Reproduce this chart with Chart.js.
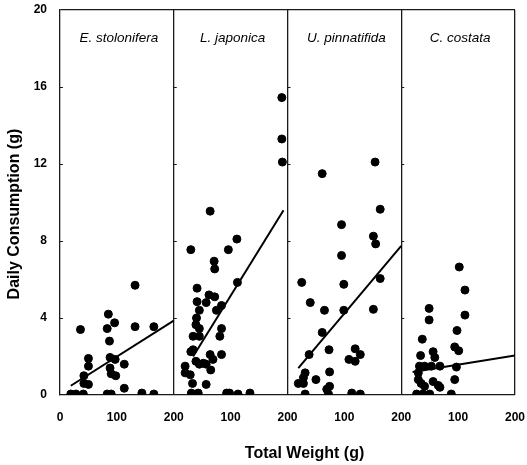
<!DOCTYPE html>
<html>
<head>
<meta charset="utf-8">
<script src="https://cdn.jsdelivr.net/npm/chart.js@4.4.1/dist/chart.umd.min.js"></script>
<style>
  body { margin: 0; background: #fff; }
  canvas { display: block; }
</style>
</head>
<body>
<canvas id="chart" width="527" height="465"></canvas>
<script>
// Названия видов (панели слева направо)
const species = ['E. stolonifera', 'L. japonica', 'U. pinnatifida', 'C. costata'];

// Общий вес (г) и суточное потребление (г) для каждого вида
const weightStolonifera = [132, 85, 96, 83, 132, 165, 36, 87, 50, 50, 88, 97, 113, 88, 90, 98, 42, 50, 42, 113, 19, 28, 41, 83, 90, 144, 165];
const consStolonifera = [5.7, 4.2, 3.75, 3.45, 3.55, 3.55, 3.4, 2.8, 1.9, 1.5, 1.95, 1.85, 1.6, 1.4, 1.1, 1.0, 1.0, 0.55, 0.6, 0.35, 0.05, 0.05, 0.05, 0.05, 0.05, 0.1, 0.05];

const weightJaponica = [190, 190, 191, 64, 30, 111, 96, 71, 72, 112, 41, 62, 72, 41, 57, 84, 45, 75, 40, 39, 45, 84, 34, 45, 81, 34, 30, 64, 84, 69, 39, 45, 52, 57, 20, 20, 29, 65, 33, 57, 31, 43, 93, 98, 113, 134];
const consJaponica = [15.45, 13.3, 12.1, 9.55, 7.55, 8.1, 7.55, 6.95, 6.55, 5.85, 5.55, 5.2, 5.1, 4.85, 4.8, 4.65, 4.4, 4.4, 4.0, 3.65, 3.45, 3.45, 3.05, 3.05, 3.05, 2.35, 2.25, 2.1, 2.1, 1.85, 1.75, 1.6, 1.65, 1.6, 1.5, 1.15, 1.05, 1.3, 0.6, 0.55, 0.1, 0.1, 0.1, 0.1, 0.05, 0.1];

const weightPinnatifida = [154, 61, 163, 95, 151, 155, 95, 25, 99, 163, 40, 65, 99, 151, 61, 38, 73, 119, 128, 108, 119, 31, 28, 19, 28, 50, 74, 74, 69, 31, 72, 113, 128];
const consPinnatifida = [12.1, 11.5, 9.65, 8.85, 8.25, 7.85, 7.25, 5.85, 5.75, 6.05, 4.8, 4.4, 4.4, 4.45, 3.25, 2.1, 2.35, 2.4, 2.1, 1.85, 1.75, 1.15, 0.9, 0.6, 0.6, 0.8, 1.2, 0.45, 0.3, 0.05, 0.05, 0.1, 0.05];

const weightCostata = [102, 112, 112, 49, 49, 98, 37, 94, 101, 34, 56, 59, 32, 41, 53, 68, 97, 30, 30, 35, 41, 56, 65, 68, 94, 27, 38, 50, 88];
const consCostata = [6.65, 5.45, 4.15, 4.5, 3.9, 3.35, 2.9, 2.5, 2.3, 2.05, 2.25, 1.95, 1.5, 1.5, 1.5, 1.5, 1.45, 1.15, 0.8, 0.6, 0.45, 0.7, 0.5, 0.4, 0.8, 0.05, 0.05, 0.05, 0.05];

// Линии регрессии: концы по весу и потреблению
const fitWeight = [[19, 200], [34, 193], [19, 200], [20, 200]];
const fitCons = [[0.48, 3.86], [2.0, 9.6], [1.4, 7.75], [1.2, 2.05]];

// Подписи осей
const yTicks = [0, 4, 8, 12, 16, 20];
const xTitle = 'Total Weight (g)';
const yTitle = 'Daily Consumption (g)';

const panelRange = 200;
const weights = [weightStolonifera, weightJaponica, weightPinnatifida, weightCostata];
const cons = [consStolonifera, consJaponica, consPinnatifida, consCostata];
const frameColor = '#1a1a1a';

const datasets = [];
species.forEach((name, i) => {
  const offset = i * panelRange;
  datasets.push({
    label: name,
    data: weights[i].map((w, k) => ({ x: offset + w, y: cons[i][k] })),
    backgroundColor: '#000',
    borderColor: '#000',
    pointRadius: 4,
    showLine: false
  });
  datasets.push({
    label: name + ' fit',
    data: fitWeight[i].map((w, k) => ({ x: offset + w, y: fitCons[i][k] })),
    borderColor: '#000',
    borderWidth: 2,
    pointRadius: 0,
    showLine: true
  });
});

// Подписи видов, заголовки осей и внутренние засечки
const labelsPlugin = {
  id: 'labels',
  afterDraw(chart) {
    const ctx = chart.ctx;
    const xs = chart.scales.x;
    const ys = chart.scales.y;
    const area = chart.chartArea;
    ctx.save();
    ctx.fillStyle = '#000';
    ctx.textAlign = 'center';
    ctx.textBaseline = 'middle';
    ctx.font = 'italic 13.5px "Liberation Sans", Arial, sans-serif';
    species.forEach((name, i) => {
      ctx.fillText(name, xs.getPixelForValue(i * panelRange + panelRange / 2) + 2, ys.getPixelForValue(18.55));
    });
    ctx.font = 'bold 16px "Liberation Sans", Arial, sans-serif';
    ctx.fillText(xTitle, xs.getPixelForValue(430), area.bottom + 59);
    ctx.translate(15, ys.getPixelForValue(9.4));
    ctx.rotate(-Math.PI / 2);
    ctx.fillText(yTitle, 0, 0);
    ctx.restore();

    ctx.save();
    ctx.strokeStyle = frameColor;
    ctx.lineWidth = 1;
    species.forEach((name, i) => {
      const x = xs.getPixelForValue(i * panelRange);
      yTicks.slice(1, -1).forEach(v => {
        const y = Math.round(ys.getPixelForValue(v)) + 0.5;
        ctx.beginPath();
        ctx.moveTo(x, y);
        ctx.lineTo(x + 3, y);
        ctx.stroke();
      });
    });
    ctx.restore();
  }
};

new Chart(document.getElementById('chart'), {
  type: 'scatter',
  data: { datasets: datasets },
  options: {
    responsive: false,
    animation: false,
    layout: { padding: { top: 10, right: 12, left: 0, bottom: 0 } },
    plugins: {
      legend: { display: false },
      tooltip: { enabled: false }
    },
    scales: {
      x: {
        type: 'linear',
        min: 0,
        max: species.length * panelRange,
        afterFit: scale => {
          scale.height = 70;
          scale.paddingLeft = 0;
          scale.paddingRight = 0;
        },
        ticks: {
          stepSize: 100,
          padding: 15,
          color: '#000',
          font: { family: '"Liberation Sans", Arial, sans-serif', size: 12, weight: 'bold' },
          callback: v => String(v % panelRange || (v ? panelRange : 0))
        },
        grid: {
          drawTicks: false,
          lineWidth: 1.3,
          color: c => (c.tick && c.tick.value > 0 && c.tick.value % panelRange === 0) ? frameColor : 'transparent'
        },
        border: { display: true, color: frameColor, width: 1.3 }
      },
      y: {
        min: 0,
        max: 20,
        afterFit: scale => {
          scale.width = 60;
          scale.paddingTop = 0;
          scale.paddingBottom = 0;
        },
        afterBuildTicks: scale => { scale.ticks = yTicks.map(v => ({ value: v })); },
        ticks: {
          padding: 13,
          color: '#000',
          font: { family: '"Liberation Sans", Arial, sans-serif', size: 12, weight: 'bold' }
        },
        grid: {
          drawTicks: false,
          lineWidth: 1.3,
          color: c => (c.tick && c.tick.value === 20) ? frameColor : 'transparent'
        },
        border: { display: true, color: frameColor, width: 1.3 }
      }
    }
  },
  plugins: [labelsPlugin]
});
</script>
</body>
</html>
